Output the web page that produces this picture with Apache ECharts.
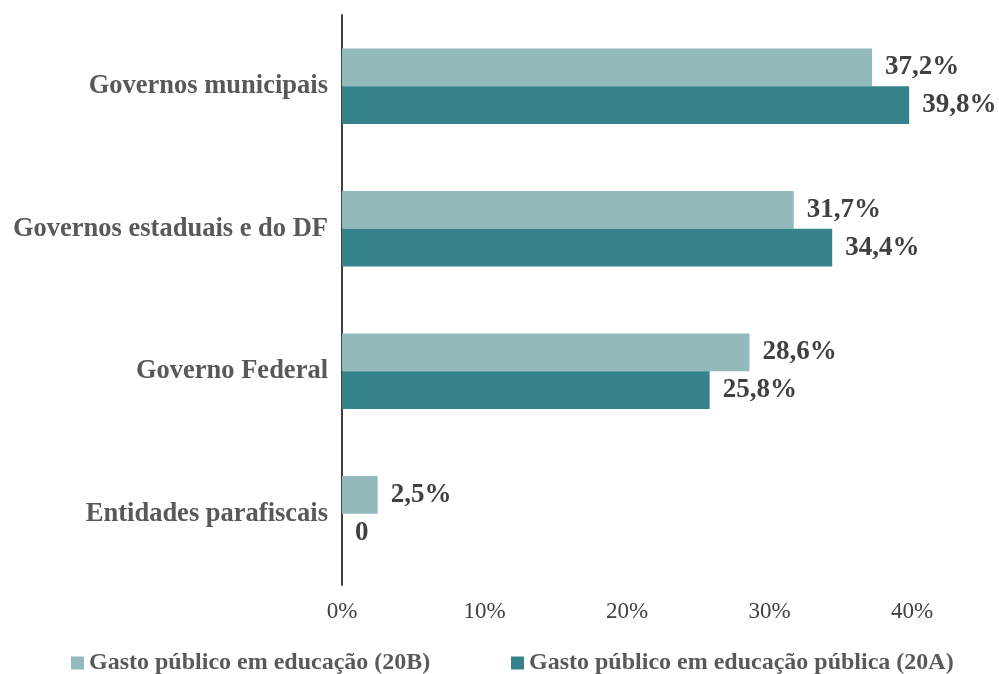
<!DOCTYPE html>
<html>
<head>
<meta charset="utf-8">
<script src="https://cdn.jsdelivr.net/npm/echarts@6/dist/echarts.min.js"></script>
<style>
  * { margin: 0; padding: 0; }
  body { background: #fff; }
</style>
</head>
<body>
<div id="main" style="width: 999px;height: 674px;"></div>
<script>
  var categories = ['Governos municipais', 'Governos estaduais e do DF', 'Governo Federal', 'Entidades parafiscais']
  var gasto20B = [37.2, 31.7, 28.6, 2.5]
  var gasto20A = [39.8, 34.4, 25.8, 0]
  var xTicks = [0, 10, 20, 30, 40]
  var seriesNames = ['Gasto público em educação (20B)', 'Gasto público em educação pública (20A)']

  var font = '"Liberation Serif", "Times New Roman", serif'
  var textColor = '#404040'
  var catColor = '#595959'

  function fmtLabel(p) {
    if (p.value === 0) return '0'
    return p.value.toFixed(1).replace('.', ',') + '%'
  }

  var legendText = { fontFamily: font, fontSize: 24, fontWeight: 'bold', color: catColor }

  var myChart = echarts.init(document.getElementById('main'))
  var options = {
    animation: false,
    textStyle: { fontFamily: font },
    grid: { left: 342, right: 87, top: 15, bottom: 89 },
    legend: [
      {
        left: 66, top: 646,
        itemWidth: 13, itemHeight: 13, icon: 'rect',
        textStyle: legendText,
        data: [seriesNames[0]]
      },
      {
        left: 506, top: 646,
        itemWidth: 13, itemHeight: 13, icon: 'rect',
        textStyle: legendText,
        data: [seriesNames[1]]
      }
    ],
    xAxis: {
      type: 'value',
      min: xTicks[0],
      max: xTicks[xTicks.length - 1],
      interval: 10,
      axisLine: { show: false },
      axisTick: { show: false },
      splitLine: { show: false },
      axisLabel: {
        formatter: '{value}%',
        fontFamily: font,
        fontSize: 23,
        color: textColor,
        margin: 15
      }
    },
    yAxis: {
      type: 'category',
      inverse: true,
      data: categories,
      axisLine: { show: true, lineStyle: { color: '#404040', width: 2 } },
      axisTick: { show: false },
      axisLabel: {
        fontFamily: font,
        fontSize: 26.5,
        fontWeight: 'bold',
        color: catColor,
        margin: 14
      }
    },
    series: [
      {
        name: seriesNames[0],
        type: 'bar',
        data: gasto20B,
        barGap: '0%',
        barCategoryGap: '47%',
        itemStyle: { color: '#92B9BC' },
        label: {
          show: true,
          position: 'right',
          distance: 13,
          formatter: fmtLabel,
          fontFamily: font,
          fontSize: 27,
          fontWeight: 'bold',
          color: textColor
        }
      },
      {
        name: seriesNames[1],
        type: 'bar',
        data: gasto20A,
        itemStyle: { color: '#35828A' },
        label: {
          show: true,
          position: 'right',
          distance: 13,
          formatter: fmtLabel,
          fontFamily: font,
          fontSize: 27,
          fontWeight: 'bold',
          color: textColor
        }
      }
    ]
  }
  myChart.setOption(options)
</script>
</body>
</html>
